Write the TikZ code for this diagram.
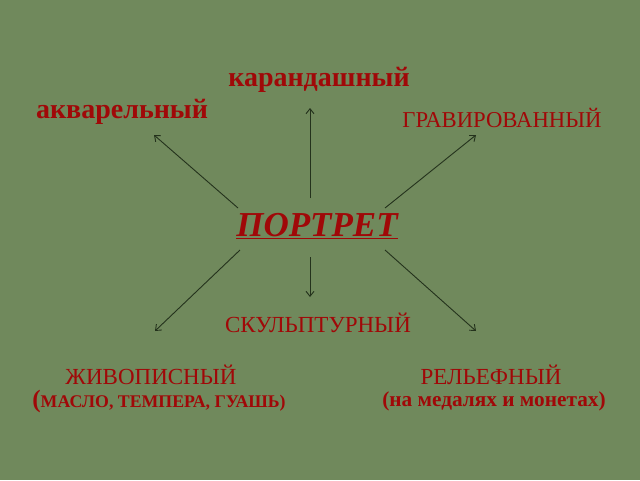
\documentclass[tikz,border=0pt]{standalone}
\usepackage{fontspec}
\setmainfont{Liberation Serif}
\usetikzlibrary{arrows.meta}
\definecolor{bgc}{RGB}{112,137,92}
\definecolor{txt}{RGB}{160,8,8}
\definecolor{ln}{RGB}{36,50,28}
\tikzset{
  lbl/.style={text=txt, inner sep=0pt, anchor=center},
  conn/.style={draw=ln, line width=0.9pt, -{Straight Barb[length=5pt,width=8pt]}}
}
\begin{document}
\begin{tikzpicture}[x=1pt,y=-1pt]
\fill[bgc] (0,0) rectangle (640,480);
\useasboundingbox (0,0) rectangle (640,480);
\node[lbl, font=\fontsize{28}{30}\selectfont\bfseries] (kar) at (319,80) {карандашный};
\node[lbl, font=\fontsize{28}{30}\selectfont\bfseries] (akv) at (122,112) {акварельный};
\node[lbl, font=\fontsize{22.7}{25}\selectfont] (grav) at (502,118) {ГРАВИРОВАННЫЙ};
\node[lbl, font=\fontsize{35}{38}\selectfont\bfseries\itshape] (port) at (317,226) {\underline{ПОРТРЕТ}};
\node[lbl, font=\fontsize{23}{25}\selectfont] (skul) at (318,323) {СКУЛЬПТУРНЫЙ};
\node[lbl, font=\fontsize{23}{25}\selectfont] (zhiv) at (151,375) {ЖИВОПИСНЫЙ};
\node[lbl, font=\bfseries] (maslo) at (159,401) {{\fontsize{25}{27}\selectfont(}{\fontsize{17.8}{20}\selectfont МАСЛО, ТЕМПЕРА, ГУАШЬ}{\fontsize{17.8}{20}\selectfont)}};
\node[lbl, font=\fontsize{23}{25}\selectfont] (rel) at (491,375) {РЕЛЬЕФНЫЙ};
\node[lbl, font=\fontsize{21.3}{24}\selectfont\bfseries] (med) at (494,401) {(на медалях и монетах)};
\coordinate (s1) at (238,208);
\coordinate (e1) at (154,135);
\coordinate (s2) at (310,198);
\coordinate (e2) at (310,108);
\coordinate (s3) at (385,208);
\coordinate (e3) at (476,135);
\coordinate (s4) at (310,257);
\coordinate (e4) at (310,297);
\coordinate (s5) at (240,250);
\coordinate (e5) at (155,331);
\coordinate (s6) at (385,250);
\coordinate (e6) at (476,331);
\draw[conn] (s1) -- (e1);
\draw[conn] (s2) -- (e2);
\draw[conn] (s3) -- (e3);
\draw[conn] (s4) -- (e4);
\draw[conn] (s5) -- (e5);
\draw[conn] (s6) -- (e6);
\end{tikzpicture}
\end{document}
